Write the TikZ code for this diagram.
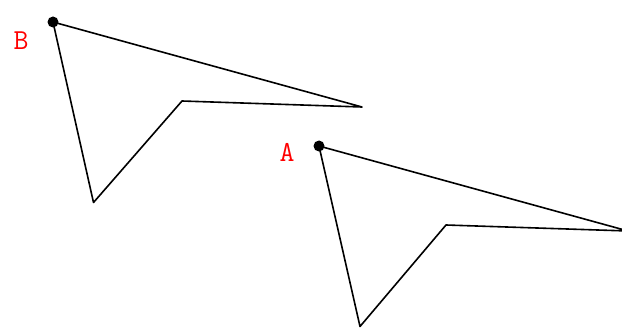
\documentclass[tikz,border=0pt]{standalone}
\begin{document}
\begin{tikzpicture}[x=1pt,y=-1pt,
  polyline/.style={line width=1.6pt, line join=round},
  dot/.style={circle, fill=black, inner sep=0pt, minimum size=11pt},
  lbl/.style={text=red, font=\ttfamily\fontsize{29}{29}\selectfont, inner sep=0pt}]
\useasboundingbox (0,0) rectangle (622,329);
% shape B
\coordinate (b1) at (53,22);
\coordinate (b2) at (362,107);
\coordinate (b3) at (182,101);
\coordinate (b4) at (93.5,202.5);
% shape A
\coordinate (a1) at (319,146);
\coordinate (a2) at (628,231);
\coordinate (a3) at (446,225);
\coordinate (a4) at (360,326.5);
\draw[polyline] (b1) -- (b2) -- (b3) -- (b4) -- cycle;
\draw[polyline] (a1) -- (a2) -- (a3) -- (a4) -- cycle;
\node[dot] (pb) at (b1) {};
\node[dot] (pa) at (a1) {};
\node[lbl] (lb) at (21,41) {B};
\node[lbl] (la) at (287,152) {A};
\end{tikzpicture}
\end{document}
